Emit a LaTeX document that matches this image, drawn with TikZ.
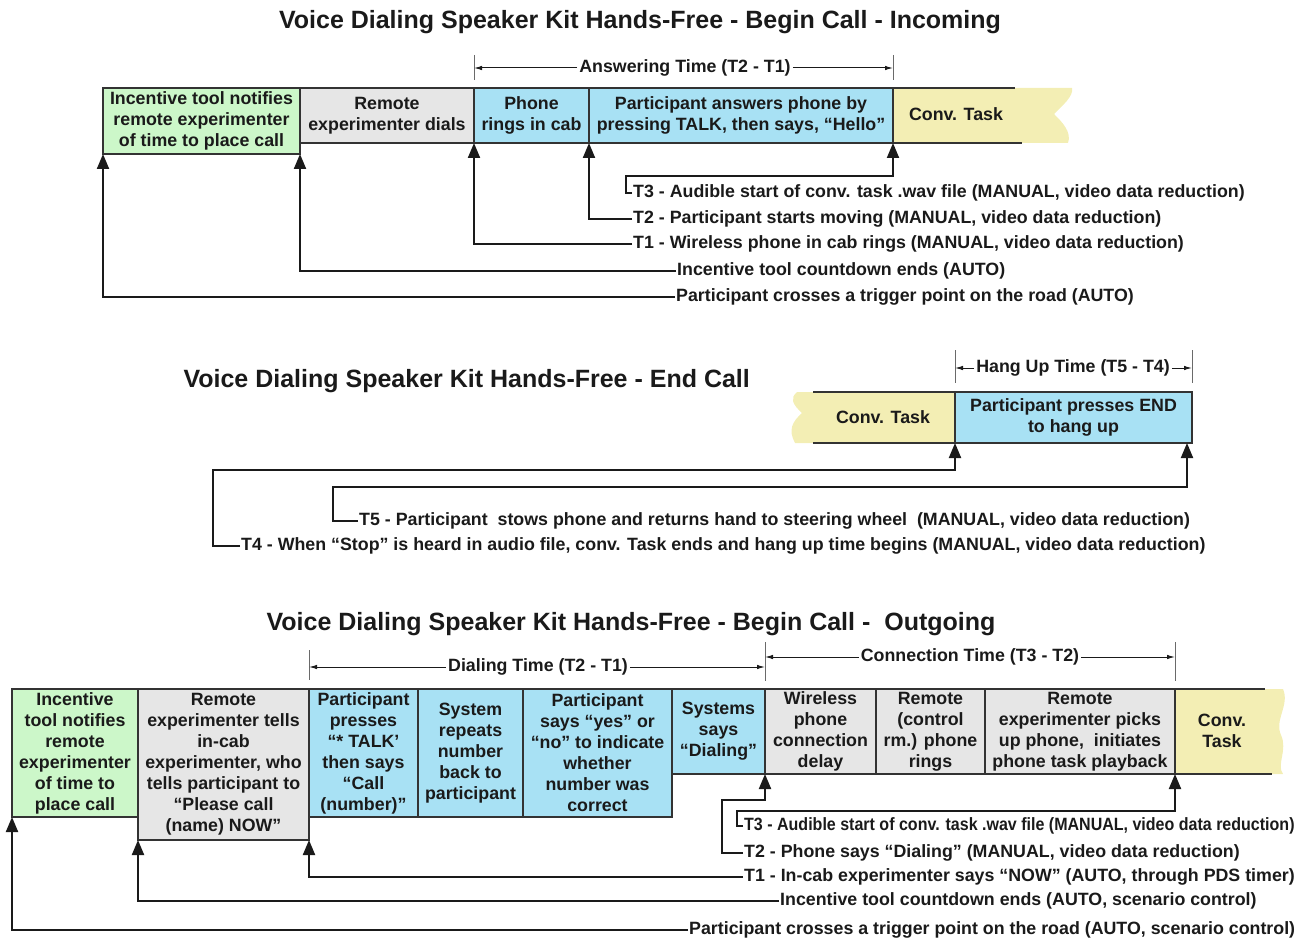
\documentclass[tikz,border=0pt]{standalone}
\usepackage{fontspec}
\setmainfont{Liberation Sans}
\usetikzlibrary{arrows.meta,positioning,backgrounds}
\definecolor{vdInk}{HTML}{1A1A1A}
\definecolor{vdLine}{HTML}{333333}
\definecolor{vdGreen}{HTML}{CCF7C9}
\definecolor{vdGrey}{HTML}{E6E6E6}
\definecolor{vdBlue}{HTML}{A8E1F4}
\definecolor{vdSand}{HTML}{F3EEB4}
\newcommand{\vdfont}{\fontsize{17.8}{21}\selectfont\bfseries}
\newcommand{\vdtitle}{\fontsize{25}{28}\selectfont\bfseries}
\tikzset{
  cell/.style      ={draw=vdLine,line width=1.3pt,inner sep=0pt,outer sep=0pt,
                     align=center,anchor=north west,font=\vdfont,text=vdInk},
  greencell/.style ={cell,fill=vdGreen},
  greycell/.style  ={cell,fill=vdGrey},
  bluecell/.style  ={cell,fill=vdBlue},
  convtext/.style  ={font=\vdfont,text=vdInk,align=center},
  sand/.style      ={fill=vdSand},
  rim/.style       ={vdLine,line width=1.3pt},
  riser/.style     ={-{Triangle[length=15pt,width=12pt]},vdInk,line width=2pt},
  tickln/.style    ={vdInk!65,line width=0.9pt},
  dimln/.style     ={-{Latex[length=8pt,width=4.5pt]},vdInk,line width=1pt},
  lbl/.style       ={font=\vdfont,text=vdInk,anchor=west,inner sep=1pt},
  dlbl/.style      ={font=\vdfont,text=vdInk,inner sep=2pt},
  ttl/.style       ={font=\vdtitle,text=vdInk},
}

\begin{document}
\begin{tikzpicture}[x=1pt,y=-1pt]
\useasboundingbox (0,0) rectangle (1302,939);

%% incoming call
\node[ttl] (ttlA) at (640,22) {Voice Dialing Speaker Kit Hands-Free - Begin Call - Incoming};
\node[greencell,minimum width=197,minimum height=66] (aNote) at (103,88)
  {Incentive tool notifies\\remote experimenter\\of time to place call};
\node[greycell,minimum width=174,minimum height=55] (aDial) at (aNote.north east)
  {Remote\\experimenter dials};
\node[bluecell,minimum width=115,minimum height=55] (aRing) at (aDial.north east)
  {Phone\\rings in cab};
\node[bluecell,minimum width=304,minimum height=55] (aAns) at (aRing.north east)
  {Participant answers phone by\\pressing TALK, then says, “Hello”};
\begin{pgfonlayer}{background}
  \fill[sand] (893,88) -- (1072,88) .. controls (1074,96) and (1062,106) .. (1054,114)
    .. controls (1062,122) and (1072,132) .. (1068,143) -- (893,143) -- cycle;
\end{pgfonlayer}
\draw[rim] (aAns.north east) -- (1015,88);
\draw[rim] (aAns.south east) -- (1022,143);
\node[convtext] (aConv) at (956,114) {Conv. Task};

\coordinate (aT1) at (aRing.north west |- 0,68);
\coordinate (aT2) at (aAns.north east |- 0,68);
\draw[tickln] ([yshift=13pt]aT1) -- ([yshift=-12pt]aT1);
\draw[tickln] ([yshift=13pt]aT2) -- ([yshift=-12pt]aT2);
\node[dlbl] (aSpan) at (685,68) {Answering Time (T2 - T1)};
\draw[dimln] (aSpan.west) -- (aT1);
\draw[dimln] (aSpan.east) -- (aT2);

\node[lbl] (aT3lbl) at (632,193) {T3 - Audible start of conv. task .wav file (MANUAL, video data reduction)};
\node[lbl] (aT2lbl) at (632,219) {T2 - Participant starts moving (MANUAL, video data reduction)};
\node[lbl] (aT1lbl) at (632,244) {T1 - Wireless phone in cab rings (MANUAL, video data reduction)};
\node[lbl] (aCnt)   at (676,271) {Incentive tool countdown ends (AUTO)};
\node[lbl] (aTrig)  at (675,297) {Participant crosses a trigger point on the road (AUTO)};

\coordinate (aBend) at (626,176);
\draw[riser] (aT3lbl.west) -| (aBend) -| (aAns.south east);
\draw[riser] (aT2lbl.west) -| (aAns.south west);
\draw[riser] (aT1lbl.west) -| (aRing.south west);
\draw[riser] (aCnt.west) -| (aNote.south east);
\draw[riser] (aTrig.west) -| (aNote.south west);

%% end call
\node[ttl,anchor=west] (ttlB) at (180,381) {Voice Dialing Speaker Kit Hands-Free - End Call};
\node[bluecell,minimum width=237,minimum height=51] (bEnd) at (955,392)
  {Participant presses END\\to hang up};
\begin{pgfonlayer}{background}
  \fill[sand] (955,392) -- (797,392) .. controls (790,398) and (792,404) .. (802,413)
    .. controls (792,422) and (788,430) .. (795,443) -- (955,443) -- cycle;
\end{pgfonlayer}
\draw[rim] (813,392) -- (bEnd.north west);
\draw[rim] (813,443) -- (bEnd.south west);
\node[convtext] (bConv) at (883,417) {Conv. Task};

\coordinate (bT4) at (bEnd.north west |- 0,368);
\coordinate (bT5) at (bEnd.north east |- 0,368);
\draw[tickln] ([yshift=18pt]bT4) -- ([yshift=-15pt]bT4);
\draw[tickln] ([yshift=18pt]bT5) -- ([yshift=-15pt]bT5);
\node[dlbl] (bSpan) at (1073,368) {Hang Up Time (T5 - T4)};
\draw[dimln] (bSpan.west) -- (bT4);
\draw[dimln] (bSpan.east) -- (bT5);

\node[lbl] (bT5lbl) at (358,521) {T5 - Participant\ \ stows phone and returns hand to steering wheel\ \ (MANUAL, video data reduction)};
\node[lbl] (bT4lbl) at (240,546) {T4 - When “Stop” is heard in audio file, conv. Task ends and hang up time begins (MANUAL, video data reduction)};

\coordinate (bBend4) at (213,470);
\coordinate (bBend5) at (333,487);
\draw[riser] (bT4lbl.west) -| (bBend4) -| (bEnd.south west);
\draw[riser] (bT5lbl.west) -| (bBend5) -| ([xshift=-5pt]bEnd.south east);

%% outgoing call
\node[ttl] (ttlC) at (631,624) {Voice Dialing Speaker Kit Hands-Free - Begin Call -\ \ Outgoing};
\node[greencell,minimum width=126,minimum height=128] (cNote) at (12,689)
  {Incentive\\tool notifies\\remote\\experimenter\\of time to\\place call};
\node[greycell,minimum width=171,minimum height=151] (cTell) at (cNote.north east)
  {Remote\\experimenter tells\\in-cab\\experimenter, who\\tells participant to\\“Please call\\(name) NOW”};
\node[bluecell,minimum width=109,minimum height=128] (cTalk) at (cTell.north east)
  {Participant\\presses\\“* TALK’\\then says\\“Call\\(number)”};
\node[bluecell,minimum width=105,minimum height=128] (cRpt) at (cTalk.north east)
  {System\\repeats\\number\\back to\\participant};
\node[bluecell,minimum width=149,minimum height=128] (cYes) at (cRpt.north east)
  {Participant\\says “yes” or\\“no” to indicate\\whether\\number was\\correct};
\node[bluecell,minimum width=93,minimum height=85] (cDial) at (cYes.north east)
  {Systems\\says\\“Dialing”};
\node[greycell,minimum width=111,minimum height=85] (cConn) at (cDial.north east)
  {Wireless\\phone\\connection\\delay};
\node[greycell,minimum width=109,minimum height=85] (cRing) at (cConn.north east)
  {Remote\\(control\\rm.) phone\\rings};
\node[greycell,minimum width=190,minimum height=85] (cPick) at (cRing.north east)
  {Remote\\experimenter picks\\up phone,\ \ initiates\\phone task playback};
\begin{pgfonlayer}{background}
  \fill[sand] (1175,689) -- (1283,689) .. controls (1290,705) and (1274,720) .. (1281,735)
    .. controls (1288,750) and (1276,765) .. (1283,774) -- (1175,774) -- cycle;
\end{pgfonlayer}
\draw[rim] (cPick.north east) -- (1265,689);
\draw[rim] (cPick.south east) -- (1272,774);
\node[convtext] (cConv) at (1222,731) {Conv.\\Task};

\coordinate (cT1)  at (cTalk.north west |- 0,667);
\coordinate (cT2)  at (cDial.north east |- 0,667);
\coordinate (cT2b) at (cDial.north east |- 0,657);
\coordinate (cT3)  at (cPick.north east |- 0,657);
\draw[tickln] ([yshift=17pt]cT1) -- ([yshift=-13pt]cT1);
\draw[tickln] ([yshift=15pt]cT2b) -- ([yshift=-24pt]cT2b);
\draw[tickln] ([yshift=15pt]cT3) -- ([yshift=-24pt]cT3);
\node[dlbl] (cSpanA) at (538,667) {Dialing Time (T2 - T1)};
\node[dlbl] (cSpanB) at (970,657) {Connection Time (T3 - T2)};
\draw[dimln] (cSpanA.west) -- (cT1);
\draw[dimln] (cSpanA.east) -- (cT2);
\draw[dimln] (cSpanB.west) -- (cT2b);
\draw[dimln] (cSpanB.east) -- (cT3);

\node[lbl] (cT3lbl) at (743,826) {\scalebox{0.9}[1]{T3 - Audible start of conv. task .wav file (MANUAL, video data reduction)}};
\node[lbl] (cT2lbl) at (743,853) {T2 - Phone says “Dialing” (MANUAL, video data reduction)};
\node[lbl] (cT1lbl) at (743,877) {T1 - In-cab experimenter says “NOW” (AUTO, through PDS timer)};
\node[lbl] (cCnt)   at (779,901) {Incentive tool countdown ends (AUTO, scenario control)};
\node[lbl] (cTrig)  at (688,930) {Participant crosses a trigger point on the road (AUTO, scenario control)};

\coordinate (cBend3) at (737,811);
\coordinate (cBend2) at (722,800);
\draw[riser] (cT3lbl.west) -| (cBend3) -| (cPick.south east);
\draw[riser] (cT2lbl.west) -| (cBend2) -| (cDial.south east);
\draw[riser] (cT1lbl.west) -| (cTell.south east);
\draw[riser] (cCnt.west) -| (cTell.south west);
\draw[riser] (cTrig.west) -| (cNote.south west);
\end{tikzpicture}
\end{document}
